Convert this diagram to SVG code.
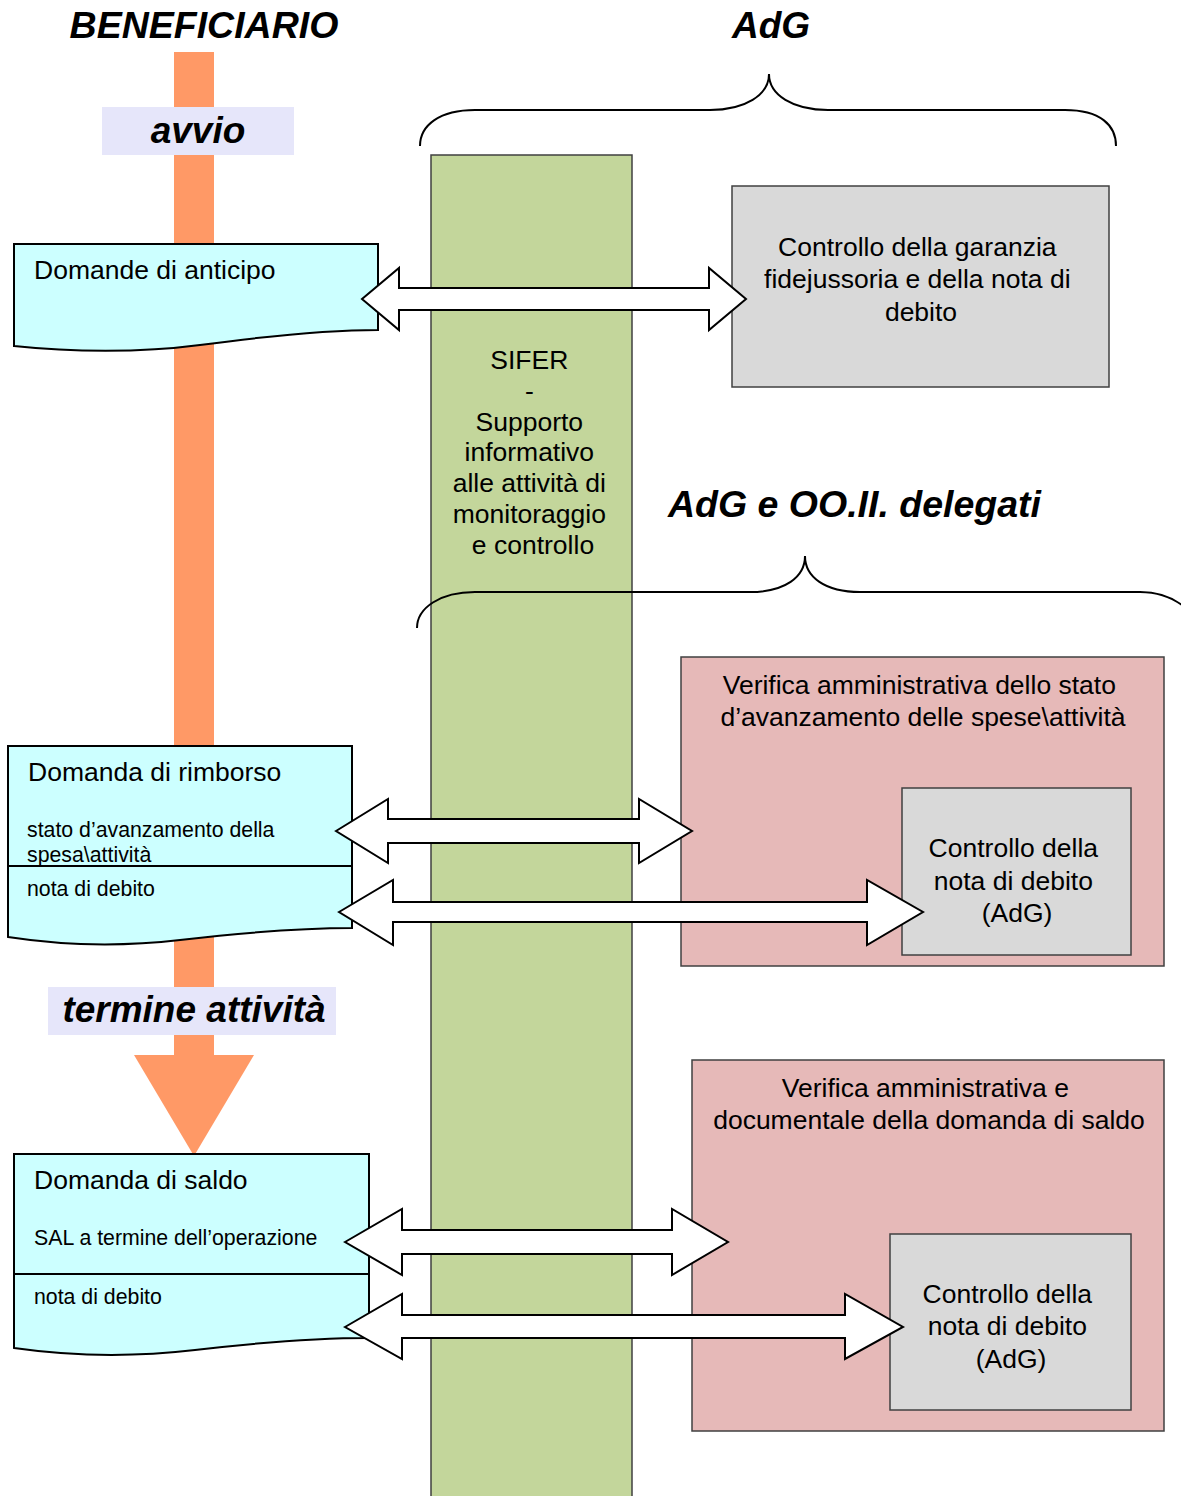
<svg xmlns="http://www.w3.org/2000/svg" width="1181" height="1496" viewBox="0 0 1181 1496">
<style>
.t{font-family:"Liberation Sans",Arial,sans-serif;fill:#000}
.h{font-family:"Liberation Sans",Arial,sans-serif;font-weight:bold;font-style:italic;fill:#000}
.doc{fill:#CCFFFF;stroke:#000;stroke-width:2}
.box{stroke:#404040;stroke-width:1.5}
.arr{fill:#fff;stroke:#000;stroke-width:2;stroke-linejoin:miter}
.brace{fill:none;stroke:#000;stroke-width:2}
.lbl{fill:#E6E6FA}
</style>
<rect width="1181" height="1496" fill="#fff"/>

<g id="titles">
<text class="h" x="204" y="38" font-size="37.5" text-anchor="middle">BENEFICIARIO</text>
<text class="h" x="771" y="38" font-size="37" text-anchor="middle">AdG</text>
<text class="h" x="668" y="517" font-size="37.5">AdG e OO.II. delegati</text>
</g>

<g id="flow">
<rect x="174" y="52" width="40" height="1004" fill="#FF9966"/>
<polygon points="134,1055 254,1055 194,1156" fill="#FF9966"/>
</g>

<g id="sifer">
<rect class="box" x="431" y="155" width="201" height="1350" fill="#C3D69B"/>
<text class="t" font-size="26.5" text-anchor="middle">
<tspan x="533" y="369">SIFER</tspan>
<tspan x="533" y="400">-</tspan>
<tspan x="533" y="431">Supporto</tspan>
<tspan x="533" y="461">informativo</tspan>
<tspan x="533" y="492">alle attività di</tspan>
<tspan x="533" y="523">monitoraggio</tspan>
<tspan x="533" y="554">e controllo</tspan>
</text>
</g>

<g id="braces">
<path class="brace" d="M420,146 C420,125 440,110 475,110 L710,110 C745,110 769,95 769,74 C769,95 793,110 828,110 L1065,110 C1100,110 1116,125 1116,146"/>
<path class="brace" d="M417,628 C417,608 440,592 475,592 L750,592 C785,592 805,577 805,556 C805,577 825,592 860,592 L1140,592 C1162,592 1178,600 1190,612"/>
</g>

<g id="avvio">
<rect class="lbl" x="102" y="107" width="192" height="48"/>
<text class="h" x="198" y="143" font-size="37" text-anchor="middle">avvio</text>
</g>

<g id="termine">
<rect class="lbl" x="48" y="987" width="288" height="48"/>
<text class="h" x="194" y="1022" font-size="37" text-anchor="middle">termine attività</text>
</g>

<g id="garanzia">
<rect class="box" x="732" y="186" width="377" height="201" fill="#D9D9D9"/>
<text class="t" font-size="26.5" text-anchor="middle">
<tspan x="921" y="256">Controllo della garanzia</tspan>
<tspan x="921" y="288">fidejussoria e della nota di</tspan>
<tspan x="921" y="321">debito</tspan>
</text>
</g>

<g id="verifica1">
<rect class="box" x="681" y="657" width="483" height="309" fill="#E6B9B8"/>
<text class="t" font-size="26.5" text-anchor="middle">
<tspan x="923" y="694">Verifica amministrativa dello stato</tspan>
<tspan x="923" y="726">d’avanzamento delle spese\attività</tspan>
</text>
</g>
<g id="controllo1">
<rect class="box" x="902" y="788" width="229" height="167" fill="#D9D9D9"/>
<text class="t" font-size="26.5" text-anchor="middle">
<tspan x="1017" y="857">Controllo della</tspan>
<tspan x="1017" y="890">nota di debito</tspan>
<tspan x="1017" y="922">(AdG)</tspan>
</text>
</g>

<g id="verifica2">
<rect class="box" x="692" y="1060" width="472" height="371" fill="#E6B9B8"/>
<text class="t" font-size="26.5" text-anchor="middle">
<tspan x="929" y="1097">Verifica amministrativa e</tspan>
<tspan x="929" y="1129">documentale della domanda di saldo</tspan>
</text>
</g>
<g id="controllo2">
<rect class="box" x="890" y="1234" width="241" height="176" fill="#D9D9D9"/>
<text class="t" font-size="26.5" text-anchor="middle">
<tspan x="1011" y="1303">Controllo della</tspan>
<tspan x="1011" y="1335">nota di debito</tspan>
<tspan x="1011" y="1368">(AdG)</tspan>
</text>
</g>

<g id="anticipo">
<path class="doc" d="M14,244 H378 V330 C320,330 260,337 200,345 C140,353 70,352 14,346 Z"/>
<text class="t" x="34" y="279" font-size="26.5">Domande di anticipo</text>
</g>

<g id="rimborso">
<path class="doc" d="M8,746 H352 V928 C295,928 240,933 180,940 C120,947 60,945 8,937 Z"/>
<line x1="8" y1="866" x2="352" y2="866" stroke="#000" stroke-width="2"/>
<text class="t" x="28" y="781" font-size="26.5">Domanda di rimborso</text>
<text class="t" x="27" y="837" font-size="21.3">stato d’avanzamento della</text>
<text class="t" x="27" y="862" font-size="21.3">spesa\attività</text>
<text class="t" x="27" y="896" font-size="21.3">nota di debito</text>
</g>

<g id="saldo">
<path class="doc" d="M14,1154 H369 V1338 C310,1338 255,1343 195,1350 C135,1357 70,1356 14,1348 Z"/>
<line x1="14" y1="1274" x2="369" y2="1274" stroke="#000" stroke-width="2"/>
<text class="t" x="34" y="1189" font-size="26.5">Domanda di saldo</text>
<text class="t" x="34" y="1245" font-size="21.3">SAL a termine dell’operazione</text>
<text class="t" x="34" y="1304" font-size="21.3">nota di debito</text>
</g>

<g id="connectors">
<polygon class="arr" points="362,299 399,268 399,288 709,288 709,268 746,299 709,330 709,310 399,310 399,330"/>
<polygon class="arr" points="336,831 388,799 388,819 639,819 639,799 692,831 639,863 639,843 388,843 388,863"/>
<polygon class="arr" points="339,912 393,880 393,902 867,902 867,880 923,912 867,945 867,922 393,922 393,945"/>
<polygon class="arr" points="345,1242 402,1209 402,1230 672,1230 672,1209 728,1242 672,1275 672,1254 402,1254 402,1275"/>
<polygon class="arr" points="345,1327 402,1294 402,1315 845,1315 845,1294 903,1327 845,1359 845,1338 402,1338 402,1359"/>
</g>
</svg>
